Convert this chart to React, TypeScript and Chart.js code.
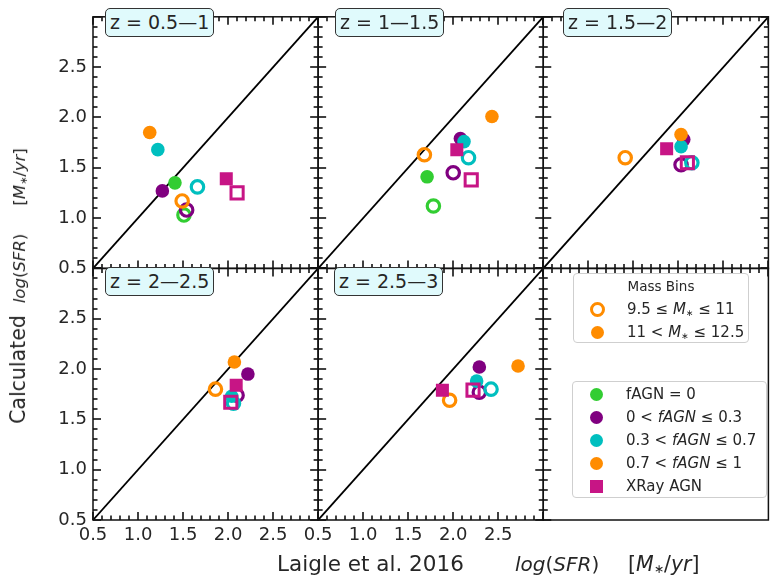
import React, { useEffect, useRef, useState } from 'react';
import { Chart, registerables } from 'chart.js';

Chart.register(...registerables);

// ---------- data ----------
const panelLabels = ['z = 0.5—1', 'z = 1—1.5', 'z = 1.5—2', 'z = 2—2.5', 'z = 2.5—3'];
const axisRange = [0.5, 3.0];
const axisTicks = [0.5, 1.0, 1.5, 2.0, 2.5];
const minorTicks = [
  0.5, 0.6, 0.7, 0.8, 0.9, 1.0, 1.1, 1.2, 1.3, 1.4, 1.5, 1.6, 1.7, 1.8, 1.9,
  2.0, 2.1, 2.2, 2.3, 2.4, 2.5, 2.6, 2.7, 2.8, 2.9, 3.0,
];
const oneToOne = [0.5, 3.0];

type P = [number, number] | null;
// one entry per panel (z bins in order): [Laigle log SFR, calculated log SFR]
const greenOpen: P[] = [[1.51, 1.03], [1.78, 1.12], null, null, null];
const greenFilled: P[] = [[1.41, 1.35], [1.71, 1.41], null, null, null];
const purpleOpen: P[] = [[1.54, 1.08], [2.0, 1.45], [2.03, 1.53], [2.1, 1.74], [2.29, 1.77]];
const purpleFilled: P[] = [[1.27, 1.27], [2.08, 1.79], [2.06, 1.78], [2.22, 1.95], [2.29, 2.02]];
const cyanOpen: P[] = [[1.66, 1.31], [2.17, 1.6], [2.15, 1.55], [2.06, 1.66], [2.42, 1.8]];
const cyanFilled: P[] = [[1.22, 1.68], [2.12, 1.76], [2.03, 1.71], [2.04, 1.73], [2.26, 1.88]];
const orangeOpen: P[] = [[1.49, 1.17], [1.68, 1.63], [1.41, 1.6], [1.86, 1.8], [1.96, 1.69]];
const orangeFilled: P[] = [[1.13, 1.85], [2.43, 2.01], [2.03, 1.83], [2.07, 2.07], [2.72, 2.03]];
const xrayOpen: P[] = [[2.1, 1.25], [2.2, 1.38], [2.1, 1.55], [2.03, 1.67], [2.22, 1.79]];
const xrayFilled: P[] = [[1.98, 1.39], [2.04, 1.68], [1.87, 1.69], [2.09, 1.84], [1.88, 1.79]];

// ---------- styles ----------
const GREEN = '#32CD32';
const PURPLE = '#800080';
const CYAN = '#00BFBF';
const ORANGE = '#FF8C00';
const MAGENTA = '#C71585';
const FONT = "'DejaVu Sans', sans-serif";
const TEXT = '#262626';
const SPINE = '#111111';

const seriesDefs = [
  { name: 'fAGN=0 low', data: greenOpen, color: GREEN, filled: false, square: false },
  { name: 'fAGN=0 high', data: greenFilled, color: GREEN, filled: true, square: false },
  { name: '0-0.3 low', data: purpleOpen, color: PURPLE, filled: false, square: false },
  { name: '0-0.3 high', data: purpleFilled, color: PURPLE, filled: true, square: false },
  { name: '0.3-0.7 low', data: cyanOpen, color: CYAN, filled: false, square: false },
  { name: '0.3-0.7 high', data: cyanFilled, color: CYAN, filled: true, square: false },
  { name: '0.7-1 low', data: orangeOpen, color: ORANGE, filled: false, square: false },
  { name: '0.7-1 high', data: orangeFilled, color: ORANGE, filled: true, square: false },
  { name: 'XRay low', data: xrayOpen, color: MAGENTA, filled: false, square: true },
  { name: 'XRay high', data: xrayFilled, color: MAGENTA, filled: true, square: true },
];

const xIds = ['x0', 'x1', 'x2'];
const yIds = ['yT', 'yB'];

function isMajor(v: number) {
  return axisTicks.some((t) => Math.abs(t - v) < 1e-6) || Math.abs(v - axisRange[1]) < 1e-6;
}

function buildDatasets() {
  const datasets: any[] = [];
  panelLabels.forEach((_, p) => {
    const col = p % 3;
    const row = Math.floor(p / 3);
    const xAxisID = xIds[col];
    const yAxisID = yIds[row];
    datasets.push({
      type: 'line',
      label: 'one-to-one',
      data: [{ x: oneToOne[0], y: oneToOne[0] }, { x: oneToOne[1], y: oneToOne[1] }],
      xAxisID, yAxisID,
      borderColor: '#000',
      borderWidth: 1.8,
      pointRadius: 0,
      showLine: true,
      fill: false,
      order: 1000,
    });
    seriesDefs.forEach((s, k) => {
      const pt = s.data[p];
      if (!pt) return;
      const r = s.square ? (s.filled ? 9.2 : 8.6) : (s.filled ? 6.8 : 6.2);
      datasets.push({
        type: 'scatter',
        label: s.name,
        data: [{ x: pt[0], y: pt[1] }],
        xAxisID, yAxisID,
        pointStyle: s.square ? 'rect' : 'circle',
        pointRadius: r,
        pointHoverRadius: r,
        pointBackgroundColor: s.filled ? s.color : 'rgba(0,0,0,0)',
        pointBorderColor: s.color,
        pointBorderWidth: s.filled ? 0 : (s.square ? 3 : 3.2),
        pointHoverBorderWidth: s.filled ? 0 : (s.square ? 3 : 3.2),
        order: 100 - k,
      });
    });
  });
  return datasets;
}

function makeX(i: number) {
  return {
    type: 'linear', axis: 'x', position: 'bottom', stack: 'cols', stackWeight: 1, weight: i + 1,
    min: axisRange[0], max: axisRange[1],
    grid: { display: false, drawTicks: false }, border: { display: false },
    afterBuildTicks: (s: any) => { s.ticks = axisTicks.map((v) => ({ value: v })); },
    afterFit: (s: any) => { s.height = 62; },
    ticks: {
      display: i < 2, autoSkip: false, maxRotation: 0, minRotation: 0, padding: 5,
      font: { family: FONT, size: 18 }, color: TEXT,
      callback: (v: any) => Number(v).toFixed(1),
    },
  };
}

function makeY(row: number) {
  return {
    type: 'linear', axis: 'y', position: 'left', stack: 'rows', stackWeight: 1, weight: row === 0 ? 2 : 1,
    min: axisRange[0], max: axisRange[1],
    grid: { display: false, drawTicks: false }, border: { display: false },
    afterBuildTicks: (s: any) => { s.ticks = axisTicks.map((v) => ({ value: v })); },
    afterFit: (s: any) => { s.width = 93; },
    ticks: {
      autoSkip: false, padding: 6,
      font: { family: FONT, size: 18 }, color: TEXT,
      callback: (v: any) => Number(v).toFixed(1),
    },
  };
}

const zBoxPos = [
  { left: 105, top: 8 }, { left: 335, top: 8 }, { left: 563, top: 8 },
  { left: 105, top: 267 }, { left: 334, top: 267 },
];

type Rect = { L: number; R: number; T: number; B: number; legend: boolean };

const Msub = () => (
  <>
    <i>M</i>
    <span style={{ fontSize: '0.6em', verticalAlign: '-0.2em' }}>∗</span>
  </>
);

const Marker = ({ color, filled, square }: { color: string; filled: boolean; square?: boolean }) => {
  const size = square ? 13 : filled ? 13 : 15;
  return (
    <span
      style={{
        position: 'absolute', left: 23 - size / 2, top: 10 - size / 2, width: size, height: size,
        boxSizing: 'border-box', borderRadius: square ? 0 : '50%',
        background: filled ? color : 'transparent',
        border: filled ? 'none' : `3.2px solid ${color}`,
      }}
    />
  );
};

const LegendRow = ({ top, children, color, filled, square }: any) => (
  <div style={{ position: 'absolute', left: 0, top: top - 10, height: 20, width: '100%' }}>
    <Marker color={color} filled={filled} square={square} />
    <span style={{ position: 'absolute', left: 53, top: 0, lineHeight: '20px', whiteSpace: 'nowrap' }}>{children}</span>
  </div>
);

function PanelFrame({ p }: { p: Rect }) {
  const span = axisRange[1] - axisRange[0];
  const lines: any[] = [];
  minorTicks.forEach((v, k) => {
    const frac = (v - axisRange[0]) / span;
    const len = isMajor(v) ? 8 : 4.5;
    const px = Math.round(p.L + frac * (p.R - p.L));
    const py = Math.round(p.B - frac * (p.B - p.T));
    lines.push(<line key={`t${k}`} x1={px} y1={p.T} x2={px} y2={p.T + len} />);
    lines.push(<line key={`l${k}`} x1={p.L} y1={py} x2={p.L + len} y2={py} />);
    if (!p.legend) {
      lines.push(<line key={`b${k}`} x1={px} y1={p.B} x2={px} y2={p.B - len} />);
      lines.push(<line key={`r${k}`} x1={p.R} y1={py} x2={p.R - len} y2={py} />);
    }
  });
  return (
    <g>
      <g stroke={SPINE} strokeWidth={1.6}>{lines}</g>
      <rect x={p.L} y={p.T} width={p.R - p.L} height={p.B - p.T} fill="none" stroke={SPINE} strokeWidth={1.5} />
    </g>
  );
}

export default function App() {
  const canvasRef = useRef<HTMLCanvasElement>(null);
  const [panels, setPanels] = useState<Rect[]>([]);

  useEffect(() => {
    document.body.style.margin = '0';
    const chart = new Chart(canvasRef.current as HTMLCanvasElement, {
      type: 'scatter',
      data: { datasets: buildDatasets() },
      options: {
        animation: false,
        responsive: false,
        events: [],
        layout: { padding: { left: 0, top: 3, right: 1, bottom: 0 } },
        plugins: { legend: { display: false }, tooltip: { enabled: false } },
        scales: {
          x0: makeX(0), x1: makeX(1), x2: makeX(2),
          yT: makeY(0), yB: makeY(1),
        } as any,
      },
    } as any);
    const rects: Rect[] = [];
    for (let r = 0; r < 2; r++) {
      for (let c = 0; c < 3; c++) {
        const xs: any = chart.scales[xIds[c]];
        const ys: any = chart.scales[yIds[r]];
        rects.push({ L: xs.left, R: xs.right, T: ys.top, B: ys.bottom, legend: r === 1 && c === 2 });
      }
    }
    setPanels(rects);
    return () => chart.destroy();
  }, []);

  return (
    <div style={{ position: 'relative', width: 780, height: 582, fontFamily: FONT, color: TEXT, background: '#fff', overflow: 'hidden' }}>
      <canvas ref={canvasRef} width={780} height={582} style={{ position: 'absolute', left: 0, top: 0 }} />
      <svg width={780} height={582} style={{ position: 'absolute', left: 0, top: 0, pointerEvents: 'none' }}>
        {panels.map((p, i) => <PanelFrame key={i} p={p} />)}
      </svg>

      {panelLabels.map((lab, i) => (
        <div key={lab} style={{
          position: 'absolute', left: zBoxPos[i].left, top: zBoxPos[i].top, height: 29,
          padding: '0 4px', boxSizing: 'border-box', lineHeight: '27px', fontSize: 19,
          background: '#E0FAFC', border: '1.3px solid #333', borderRadius: 5, whiteSpace: 'nowrap',
        }}>{lab}</div>
      ))}

      {/* y title */}
      <div style={{
        position: 'absolute', left: 21, top: 286, transform: 'translate(-50%, -50%) rotate(-90deg)',
        whiteSpace: 'nowrap', fontSize: 20.5, lineHeight: '24px',
      }}>
        <span>Calculated</span>
        <span style={{ marginLeft: 12, fontSize: 16.5 }}><i>log</i>(<i>SFR</i>)</span>
        <span style={{ marginLeft: 28, fontSize: 16.5 }}>[<Msub />/<i>yr</i>]</span>
      </div>

      {/* x title */}
      <div style={{ position: 'absolute', left: 277, top: 551, fontSize: 21.5, lineHeight: '26px', whiteSpace: 'nowrap' }}>Laigle et al. 2016</div>
      <div style={{ position: 'absolute', left: 515, top: 551, fontSize: 20, lineHeight: '26px', whiteSpace: 'nowrap' }}><i>log</i>(<i>SFR</i>)</div>
      <div style={{ position: 'absolute', left: 628, top: 551, fontSize: 20.5, lineHeight: '26px', whiteSpace: 'nowrap' }}>[<Msub />/<i>yr</i>]</div>

      {/* legend: mass bins */}
      <div style={{
        position: 'absolute', left: 573, top: 273, width: 176, height: 70, boxSizing: 'border-box',
        border: '1px solid #cfcfcf', borderRadius: 4, background: '#fff', fontSize: 15,
      }}>
        <div style={{ position: 'absolute', left: 0, width: '100%', top: 3, textAlign: 'center', fontSize: 13.5, lineHeight: '18px' }}>Mass Bins</div>
        <LegendRow top={35} color={ORANGE} filled={false}>9.5 ≤ <Msub /> ≤ 11</LegendRow>
        <LegendRow top={58} color={ORANGE} filled={true}>11 &lt; <Msub /> ≤ 12.5</LegendRow>
      </div>

      {/* legend: fAGN */}
      <div style={{
        position: 'absolute', left: 572, top: 381, width: 195, height: 117, boxSizing: 'border-box',
        border: '1px solid #cfcfcf', borderRadius: 4, background: '#fff', fontSize: 15,
      }}>
        <LegendRow top={12} color={GREEN} filled={true}>fAGN = 0</LegendRow>
        <LegendRow top={35} color={PURPLE} filled={true}>0 &lt; <i>fAGN</i> ≤ 0.3</LegendRow>
        <LegendRow top={58} color={CYAN} filled={true}>0.3 &lt; <i>fAGN</i> ≤ 0.7</LegendRow>
        <LegendRow top={81} color={ORANGE} filled={true}>0.7 &lt; <i>fAGN</i> ≤ 1</LegendRow>
        <LegendRow top={104} color={MAGENTA} filled={true} square={true}>XRay AGN</LegendRow>
      </div>
    </div>
  );
}
